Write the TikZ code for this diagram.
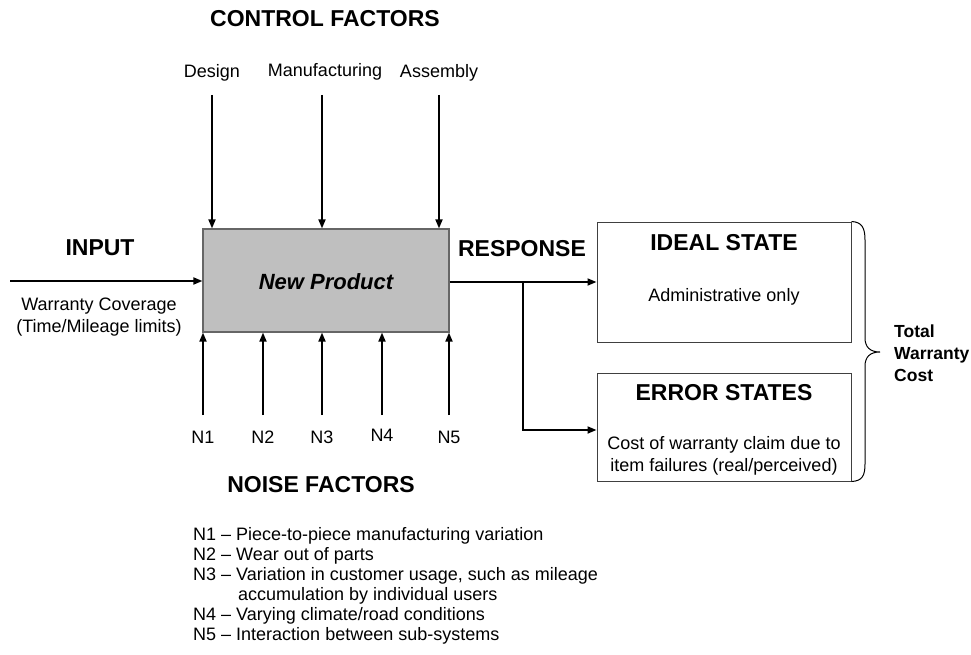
\documentclass[tikz,border=0pt]{standalone}
\usepackage{fontspec}
\setmainfont{Liberation Sans}
\usetikzlibrary{arrows.meta}
\begin{document}
\begin{tikzpicture}[x=1pt,y=-1pt,
  txt/.style={font=\fontsize{18}{22}\selectfont, inner sep=0pt, align=center},
  head/.style={font=\fontsize{23}{26}\bfseries, inner sep=0pt},
  flow/.style={line width=1.8pt, -{Triangle[length=9pt,width=7pt]}},
  statebox/.style={draw=black!75, line width=1pt, fill=white, inner sep=0pt},
]
\useasboundingbox (0,0) rectangle (971,655);

% central product block
\node[draw=black!60, line width=1.2pt, fill=black!25, inner sep=0pt,
      minimum width=246pt, minimum height=103pt] (prod) at (326,280.5) {};
\node[inner sep=0pt, font=\fontsize{22}{26}\bfseries\itshape] (prodlbl) at (326,282) {New Product};

% control factors
\node[head] (ctrl) at (325,19) {CONTROL FACTORS};
\node[txt] (design) at (212,73) {Design};
\node[txt] (manu) at (325,72) {Manufacturing};
\node[txt] (assy) at (439,73) {Assembly};
\coordinate (c1) at (212,95);
\coordinate (c2) at (322,95);
\coordinate (c3) at (439,95);
\draw[flow] (c1) -- (c1 |- prod.north);
\draw[flow] (c2) -- (c2 |- prod.north);
\draw[flow] (c3) -- (c3 |- prod.north);

% input
\node[head] (input) at (100,248) {INPUT};
\coordinate (inl) at (10,281);
\draw[flow] (inl) -- (inl -| prod.west);
\node[txt] (cover) at (99,317) {Warranty Coverage\\(Time/Mileage limits)};

% noise factors
\foreach \i/\x/\y in {1/203/437, 2/263/437, 3/322/437, 4/382/435, 5/449/437}{
  \node[txt] (n\i) at (\x,\y) {N\i};
  \coordinate (nb\i) at (\x,415);
  \draw[flow] (nb\i) -- (nb\i |- prod.south);
}
\node[head] (noise) at (321,485) {NOISE FACTORS};

% response states
\node[head] (resp) at (522,249) {RESPONSE};
\node[statebox, minimum width=254pt, minimum height=120pt] (ideal) at (724,282) {};
\node[statebox, minimum width=254pt, minimum height=108pt] (error) at (724,427) {};
\node[head] (idealt) at (724,243) {IDEAL STATE};
\node[txt] (ideald) at (724,297) {Administrative only};
\node[head] (errort) at (724,393) {ERROR STATES};
\node[txt] (errord) at (724,455.5) {Cost of warranty claim due to\\item failures (real/perceived)};

\coordinate (split) at (523,282);
\draw[flow] (prod.east |- split) -- (ideal.west |- split);
\draw[flow] (split) |- (error.west |- 0,430);

% brace and total
\draw[line width=1pt] (ideal.north east)
  .. controls (862,222) and (865,228) .. (865,240) -- (865,338)
  .. controls (865,347) and (870,352) .. (880,352)
  .. controls (870,352) and (865,357) .. (865,366) -- (865,464)
  .. controls (865,476) and (862,481) .. (error.south east);
\node[inner sep=0pt, anchor=west, align=left, font=\fontsize{17.5}{22}\bfseries] (total) at (894,353)
  {Total\\Warranty\\Cost};

% legend
\node[inner sep=0pt, anchor=north west, align=left, font=\fontsize{18}{20}\selectfont] (legend) at (193,527)
  {N1 -- Piece-to-piece manufacturing variation\\
   N2 -- Wear out of parts\\
   N3 -- Variation in customer usage, such as mileage\\
   \hspace*{45pt}accumulation by individual users\\
   N4 -- Varying climate/road conditions\\
   N5 -- Interaction between sub-systems};
\end{tikzpicture}
\end{document}
